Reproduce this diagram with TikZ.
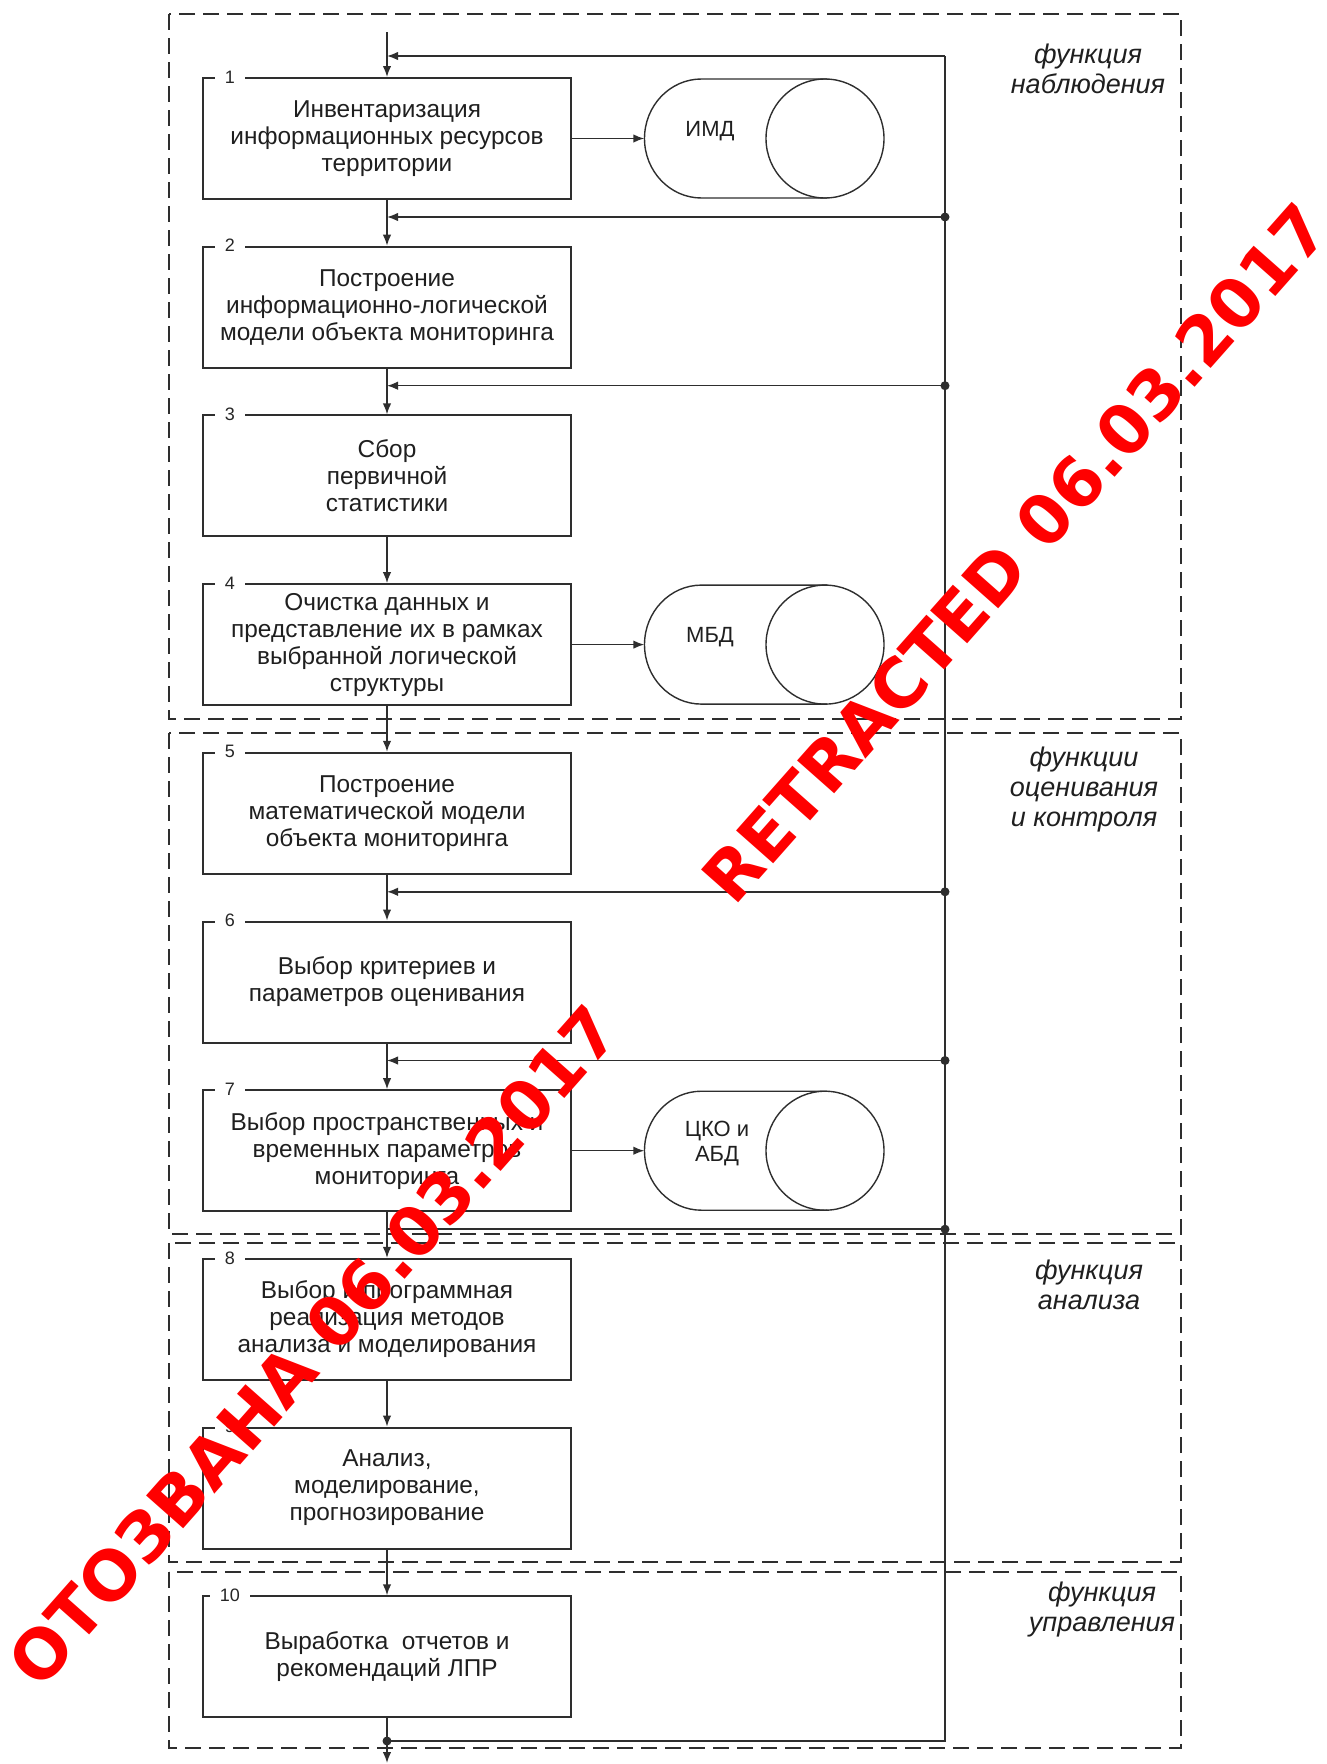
\documentclass[tikz,border=0pt]{standalone}
\usepackage{fontspec}
\setmainfont{Liberation Sans}
\newfontfamily\wmfont{DejaVu Sans}
\usetikzlibrary{arrows.meta}
\colorlet{ink}{black!82}
\newcommand\dbcyl[4]{%
  \node[cylnode] (#1) at (764.25,#2) {};
  \draw[cylline] (827,#2-59.5) -- (701.5,#2-59.5) arc[start angle=90,end angle=270,x radius=57pt,y radius=59.5pt] -- (827,#2+59.5);
  \draw[cylline] (825,#2) ellipse[x radius=59pt,y radius=59.5pt];
  \node[cyltext] (#1t) at (#3,#2-7) {#4};
}
\begin{document}
\begin{tikzpicture}[x=1pt,y=-1pt,
  line/.style={draw=ink,line width=1.5pt},
  arr/.style={draw=ink,line width=1.5pt,-{Latex[length=11pt,width=8.5pt]}},
  sect/.style={draw=ink,line width=1.4pt,dash pattern=on 16pt off 8pt},
  stepbox/.style={draw=ink,line width=2pt,minimum width=368pt,minimum height=121pt,inner sep=0pt,align=center,text=black!88,font=\fontsize{24.4}{27}\selectfont},
  numlbl/.style={fill=white,inner xsep=10pt,inner ysep=2pt,text=black!85,font=\fontsize{18}{18}\selectfont},
  cylnode/.style={minimum width=239.5pt,minimum height=119pt,inner sep=0pt},
  cylline/.style={draw=ink,line width=1.4pt},
  cyltext/.style={align=center,text=black!88,font=\fontsize{22}{25}\selectfont},
  func/.style={align=center,text=black!88,font=\itshape\fontsize{27}{30}\selectfont},
  dot/.style={circle,fill=ink,inner sep=0pt,minimum size=9pt},
  wm/.style={text=red,font=\wmfont\bfseries\fontsize{68}{68}\selectfont,rotate=48.5}
]
\useasboundingbox (0,0) rectangle (1327,1764);

% sections
\draw[sect] (169,14) rectangle (1181,719);
\draw[sect] (169,733) rectangle (1181,1234);
\draw[sect] (169,1243) rectangle (1181,1562);
\draw[sect] (169,1572) rectangle (1181,1748);

\node[func] (f1) at (1088,69) {функция\\наблюдения};
\node[func] (f2) at (1084,790) {функции\\оценивания\\и контроля};
\node[func] (f3) at (1089,1285) {функция\\анализа};
\node[func] (f4) at (1102,1609) {функция\\управления};

% boxes
\node[stepbox] (b1) at (387,138.5) {Инвентаризация\\информационных ресурсов\\территории};
\node[stepbox] (b2) at (387,307.2) {Построение\\информационно-логической\\модели объекта мониторинга};
\node[stepbox] (b3) at (387,475.9) {Сбор\\первичной\\статистики};
\node[stepbox] (b4) at (387,644.6) {Очистка данных и\\представление их в рамках\\выбранной логической\\структуры};
\node[stepbox] (b5) at (387,813.3) {Построение\\математической модели\\объекта мониторинга};
\node[stepbox] (b6) at (387,982.0) {Выбор критериев и\\параметров оценивания};
\node[stepbox] (b7) at (387,1150.7) {Выбор пространственных и\\временных параметров\\мониторинга};
\node[stepbox] (b8) at (387,1319.4) {Выбор и программная\\реализация методов\\анализа и моделирования};
\node[stepbox] (b9) at (387,1488.1) {Анализ,\\моделирование,\\прогнозирование};
\node[stepbox] (b10) at (387,1656.8) {Выработка\ \ отчетов и\\рекомендаций ЛПР};

\foreach \i in {1,...,10}{
  \node[numlbl] (n\i) at ([xshift=28pt]b\i.north west) {\i};
}

% cylinders
\dbcyl{imd}{138.5}{710}{ИМД}
\dbcyl{mbd}{644.6}{710}{МБД}
\dbcyl{cko}{1150.7}{717}{ЦКО и\\АБД}

\draw[arr] (b1) -- (imd);
\draw[arr] (b4) -- (mbd);
\draw[arr] (b7) -- (cko);

% main flow
\coordinate (in) at (387,32);
\coordinate (out) at (387,1763);
\draw[arr] (in) -- (b1);
\foreach \i/\j in {1/2,2/3,3/4,4/5,5/6,6/7,7/8,8/9,9/10}{
  \draw[arr] (b\i) -- (b\j);
}
\draw[arr] (b10) -- (out);

% feedback
\coordinate (ftop) at (945,56);
\coordinate (mtop) at (387,56);
\coordinate (fend) at (945,1741);
\node[dot] (dend) at (387,1741) {};
\draw[line] (dend.center) -- (fend) -- (ftop);
\draw[arr] (ftop) -- (mtop);

\node[dot] (d0) at (945,217) {};
\node[dot] (d1) at (945,385.7) {};
\node[dot] (d4) at (945,891.8) {};
\node[dot] (d5) at (945,1060.5) {};
\node[dot] (d6) at (945,1229.2) {};
\coordinate (m0) at (387,217);
\coordinate (m1) at (387,385.7);
\coordinate (m4) at (387,891.8);
\coordinate (m5) at (387,1060.5);
\coordinate (m6) at (387,1229.2);
\draw[arr] (d0.center) -- (m0);
\draw[arr] (d1.center) -- (m1);
\draw[arr] (d4.center) -- (m4);
\draw[arr] (d5.center) -- (m5);
\draw[line] (d6.center) -- (m6);

% watermarks
\node[wm] (w1) at (1015,553) {RETRACTED 06.03.2017};
\node[wm] (w2) at (313,1346) {ОТОЗВАНА 06.03.2017};
\end{tikzpicture}
\end{document}
